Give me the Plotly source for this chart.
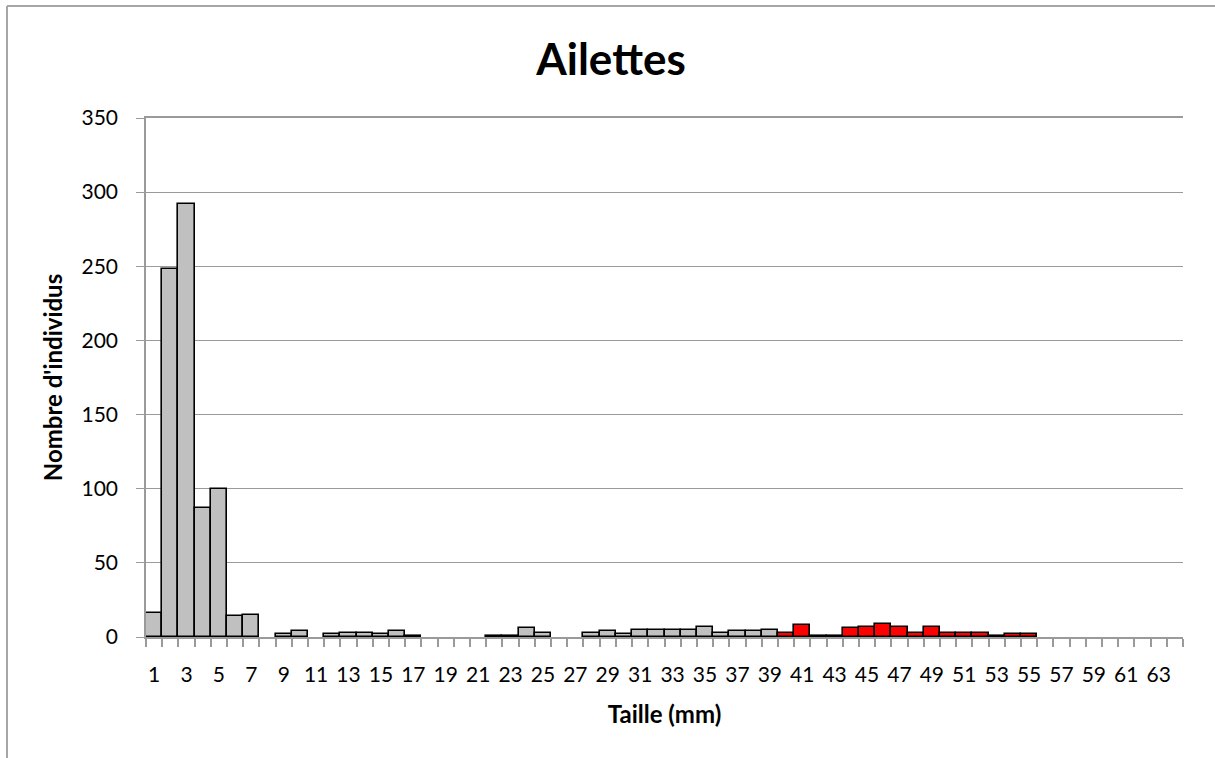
import plotly.graph_objects as go

tailles = list(range(1, 65))
effectifs = [16, 248, 292, 87, 100, 14, 15, None, 2, 4,
             None, 2, 3, 3, 2, 4, 1, None, None, None,
             None, 1, 1, 6, 3, None, None, 3, 4, 2,
             5, 5, 5, 5, 7, 3, 4, 4, 5, 3,
             8, 1, 1, 6, 7, 9, 7, 3, 7, 3,
             3, 3, 1, 2, 2, None, None, None, None, None,
             None, None, None, None]
premier_rouge = 40
couleurs = ["#FF0000" if t >= premier_rouge else "#C0C0C0" for t in tailles]
tick_labels = [str(t) for t in tailles if t % 2 == 1]
tick_vals = [t for t in tailles if t % 2 == 1]

FONT = "Lato, Calibri, Carlito, sans-serif"
AX = "#9A9A9A"

W, H = 1215, 758
PL, PR, PT, PB = 146, 1183, 118, 637   # plot area in page pixels

fig = go.Figure()
fig.add_trace(go.Bar(
    x=tailles, y=effectifs, width=1,
    marker=dict(color=couleurs, line=dict(color="black", width=1.6)),
    hoverinfo="x+y",
))

fig.update_layout(
    width=W, height=H,
    margin=dict(l=PL, r=W - PR, t=PT, b=H - PB, pad=0),
    paper_bgcolor="white", plot_bgcolor="white",
    showlegend=False,
    font=dict(family=FONT, color="black", size=21),
    title=dict(text="<b>Ailettes</b>", x=611 / W, xref="container", xanchor="center",
               y=1 - 60 / H, yref="container", yanchor="middle",
               font=dict(size=44, family=FONT, color="black")),
    bargap=0,
)
fig.update_xaxes(
    range=[0.5, 64.5], tickmode="array", tickvals=tick_vals, ticktext=tick_labels,
    ticks="", showgrid=False, showline=True, linecolor=AX, linewidth=1.5, mirror=True,
    tickfont=dict(size=21, family=FONT), zeroline=False, ticklabelstandoff=18,
    minor=dict(tickmode="linear", tick0=0.5, dtick=1, ticks="outside",
               ticklen=8, tickcolor=AX, tickwidth=1.5, showgrid=False),
    title=dict(text="<b>Taille (mm)</b>", font=dict(size=24, family=FONT), standoff=21),
)
fig.update_yaxes(
    range=[0, 350], dtick=50, tick0=0, showgrid=True, gridcolor=AX, gridwidth=1.2,
    showline=True, linecolor=AX, linewidth=1.5, ticks="outside", ticklen=8,
    tickcolor=AX, tickfont=dict(size=21, family=FONT), zeroline=False, ticklabelstandoff=14,
    title=dict(text="<b>Nombre d'individus</b>", font=dict(size=24, family=FONT), standoff=12),
)
# outer chart border (top and left visible)
pw = PR - PL
ph = PB - PT
bx = (7 - PL) / pw
by = (PB - 6) / ph
fig.add_shape(type="line", xref="paper", yref="paper",
              x0=bx, x1=(1230 - PL) / pw, y0=by, y1=by,
              line=dict(color="#A6A6A6", width=2))
fig.add_shape(type="line", xref="paper", yref="paper",
              x0=bx, x1=bx, y0=by, y1=(PB - 780) / ph,
              line=dict(color="#A6A6A6", width=2))

fig.write_html("out.html", config={"displayModeBar": False},
               post_script="document.body.style.margin='0';document.body.style.overflow='hidden';")
